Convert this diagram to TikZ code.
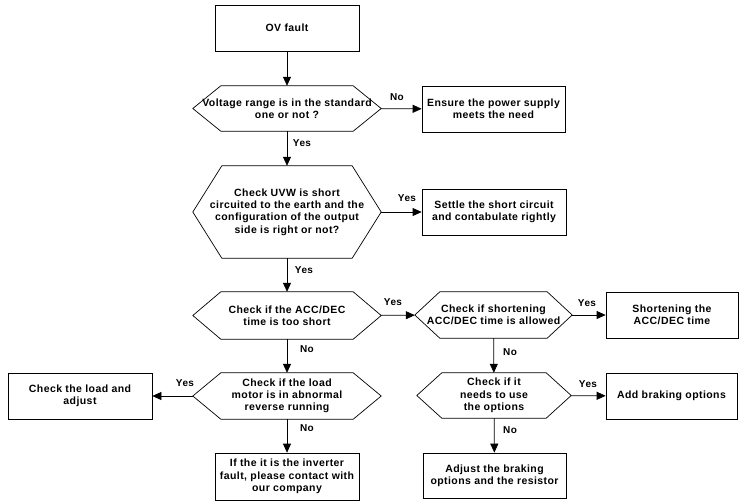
\documentclass[tikz,border=0pt]{standalone}
\usepackage{fontspec}
\setmainfont{Liberation Sans}[LetterSpace=4]
\usetikzlibrary{arrows.meta}
\begin{document}
\begin{tikzpicture}[x=1pt,y=-1pt,
  every node/.style={font=\bfseries\fontsize{10.5}{12.3}\selectfont, align=center, inner sep=0pt},
  box/.style={draw, line width=0.7pt, minimum width=#1, minimum height=46pt},
  hexa/.style={minimum width=#1, minimum height=46pt},
  lbl/.style={font=\bfseries\fontsize{10}{11}\selectfont},
  conn/.style={line width=0.7pt, -{Triangle[length=9pt,width=8pt]}},
  hexline/.style={line width=0.7pt}]
\useasboundingbox (0,0) rectangle (739,501);
% nodes
\node[box=144pt] (ov) at (287,28) {OV fault};
\node[hexa=188pt, minimum height=45pt] (h1) at (287,108.5) {Voltage range is in the standard\\one or not ?};
\node[box=143pt] (b1) at (493.5,109) {Ensure the power supply\\meets the need};
\node[hexa=188pt, minimum height=92pt] (h2) at (287,212) {Check UVW is short\\circuited to the earth and the\\configuration of the output\\side is right or not?};
\node[box=144pt] (b2) at (494,212) {Settle the short circuit\\and contabulate rightly};
\node[hexa=188pt, minimum height=47pt] (h3) at (287,315.5) {Check if the ACC/DEC\\time is too short};
\node[hexa=157pt] (h4) at (493.5,315) {Check if shortening\\ACC/DEC time is allowed};
\node[box=132pt] (b3) at (672,315) {Shortening the\\ACC/DEC time};
\node[hexa=188pt] (h6) at (287,396) {Check if the load\\motor is in abnormal\\reverse running};
\node[box=144pt] (b7) at (80,396) {Check the load and\\adjust};
\node[hexa=154pt, minimum height=45pt] (h5) at (494,395.5) {Check if it\\needs to use\\the options};
\node[box=131pt] (b4) at (671.5,396) {Add braking options};
\node[box=144pt, minimum height=47pt] (b6) at (287,476.5) {If the it is the inverter\\fault, please contact with\\our company};
\node[box=143pt, minimum height=45pt] (b5) at (494.5,475.5) {Adjust the braking\\options and the resistor};
% hexagon outlines
\foreach \n/\d in {h1/28,h2/29,h3/28,h6/28,h4/25,h5/25}{
  \draw[hexline] (\n.west) -- ([xshift=\d pt]\n.north west) -- ([xshift=-\d pt]\n.north east)
    -- (\n.east) -- ([xshift=-\d pt]\n.south east) -- ([xshift=\d pt]\n.south west) -- cycle;
}
% connectors
\draw[conn] (ov) -- (h1);
\draw[conn] (h1) -- (b1);
\draw[conn] (h1) -- (h2);
\draw[conn] (h2) -- (b2);
\draw[conn] (h2) -- (h3);
\draw[conn] (h3) -- (h4);
\draw[conn] (h3) -- (h6);
\draw[conn] (h4) -- (b3);
\draw[conn] (h4) -- (h5);
\draw[conn] (h6) -- (b7);
\draw[conn] (h6) -- (b6);
\draw[conn] (h5) -- (b4);
\draw[conn] (h5) -- (b5);
% labels
\node[lbl] (l1) at (397,97) {No};
\node[lbl] (l2) at (302,143) {Yes};
\node[lbl] (l3) at (407,198) {Yes};
\node[lbl] (l4) at (304,270) {Yes};
\node[lbl] (l5) at (393,302) {Yes};
\node[lbl] (l6) at (307,349) {No};
\node[lbl] (l7) at (587,303) {Yes};
\node[lbl] (l8) at (510,352) {No};
\node[lbl] (l9) at (185,383) {Yes};
\node[lbl] (l10) at (307,428) {No};
\node[lbl] (l11) at (588,384) {Yes};
\node[lbl] (l12) at (510,430) {No};
\end{tikzpicture}
\end{document}
